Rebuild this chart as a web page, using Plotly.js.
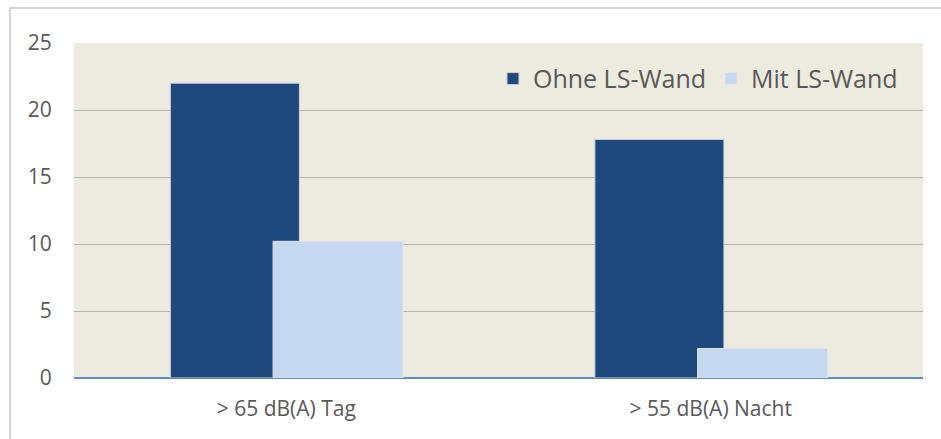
<!DOCTYPE html>
<html>
<head>
<meta charset="utf-8">
<script src="https://cdn.plot.ly/plotly-3.0.1.min.js"></script>
<style>
html,body{margin:0;padding:0;background:#fff;}
#wrap{position:relative;width:941px;height:439px;}
#chart{width:941px;height:439px;}
#frame{position:absolute;left:9px;top:7px;width:940px;height:440px;border-left:2px solid #D4D4D4;border-top:2px solid #D4D4D4;pointer-events:none;}
</style>
</head>
<body>
<div id="wrap"><div id="chart"></div><div id="frame"></div></div>
<script>
var categories = ["> 65 dB(A) Tag", "> 55 dB(A) Nacht"];
var ohneLSWand = [22.0, 17.8];
var mitLSWand = [10.2, 2.2];
var seriesNames = ["Ohne LS-Wand", "Mit LS-Wand"];
var yTicks = [0, 5, 10, 15, 20, 25];

var traces = [
  {type:'bar', x:categories, y:ohneLSWand, name:seriesNames[0],
   width:0.304, offset:-0.273,
   marker:{color:'#1F497D', line:{color:'#CDD3DA', width:1}}},
  {type:'bar', x:categories, y:mitLSWand, name:seriesNames[1],
   width:0.306, offset:-0.031,
   marker:{color:'#C6D9F1', line:{color:'#E2E6EA', width:1}}}
];

var F = 'Open Sans, sans-serif';
var layout = {
  width:941, height:439,
  margin:{l:74, r:18, t:43, b:61},
  paper_bgcolor:'#FFFFFF',
  plot_bgcolor:'#EDEAE0',
  barmode:'overlay',
  showlegend:true,
  legend:{orientation:'h', x:0.4935, y:0.893, xanchor:'left', yanchor:'middle',
          bgcolor:'rgba(0,0,0,0)', font:{family:F, size:25, color:'#595959'},
          itemwidth:30, traceorder:'normal'},
  font:{family:F, color:'#595959'},
  xaxis:{type:'category', tickfont:{size:21, color:'#595959'}, showgrid:false,
         showline:false, ticks:'outside', ticklen:12, tickcolor:'rgba(0,0,0,0)'},
  yaxis:{range:[0,25], tickvals:yTicks, ticktext:yTicks.map(String),
         tickfont:{size:21, color:'#595959'}, showgrid:true, gridcolor:'#B5B2A8', gridwidth:1,
         zeroline:true, zerolinecolor:'#5B8CCB', zerolinewidth:2, showline:false,
         ticks:'outside', ticklen:17, tickcolor:'rgba(0,0,0,0)'}
};

Plotly.newPlot('chart', traces, layout, {displayModeBar:false, staticPlot:true});
</script>
</body>
</html>
